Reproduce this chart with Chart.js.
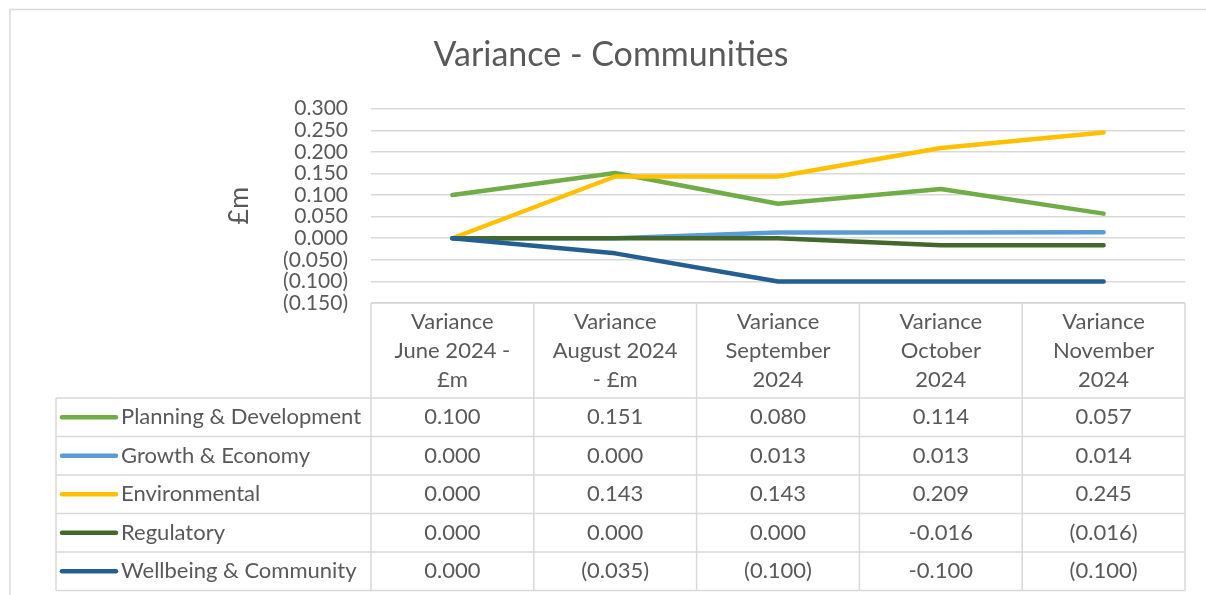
<!DOCTYPE html>
<html>
<head>
<meta charset="utf-8">
<script src="https://cdn.jsdelivr.net/npm/chart.js@4.4.0/dist/chart.umd.min.js"></script>
<style>
html,body{margin:0;padding:0;background:#fff;}
#wrap{width:1206px;height:595px;position:relative;}
</style>
</head>
<body>
<div id="wrap"><canvas id="varChart" width="1206" height="595"></canvas></div>
<script>
// DATA
const chartTitle = 'Variance - Communities';
const axisTitle = '£m';
const months = [
  ['Variance','June 2024 -','£m'],
  ['Variance','August 2024','- £m'],
  ['Variance','September','2024'],
  ['Variance','October','2024'],
  ['Variance','November','2024']
];
const seriesNames = ['Planning & Development','Growth & Economy','Environmental','Regulatory','Wellbeing & Community'];
const planning      = [0.100, 0.151, 0.080, 0.114, 0.057];
const growth        = [0.000, 0.000, 0.013, 0.013, 0.014];
const environmental = [0.000, 0.143, 0.143, 0.209, 0.245];
const regulatory    = [0.000, 0.000, 0.000, -0.016, -0.016];
const wellbeing     = [0.000, -0.035, -0.100, -0.100, -0.100];
// the sheet writes negatives differently per column (October uses a minus sign)
const negStyle = ['paren','paren','paren','minus','paren'];
const yMin = -0.15, yMax = 0.30, yStep = 0.05;

const colors = ['#70AD47','#5B9BD5','#FFC000','#43682B','#255E91'];
const txt = '#595959';
const gridCol = '#D9D9D9';
const FONT = 'Lato, Calibri, "Open Sans", sans-serif';

function fmt(v, style){
  v = Math.round(v*1000)/1000;
  if(v < 0 && style === 'paren') return '(' + Math.abs(v).toFixed(3) + ')';
  return v.toFixed(3);
}

const allSeries = [planning, growth, environmental, regulatory, wellbeing];

// draws title, outer frame and the data table under the plot
const tablePlugin = {
  id:'dataTable',
  afterDraw(chart){
    const {ctx, chartArea} = chart;
    const x = chart.scales.x;
    ctx.save();
    // frame
    ctx.strokeStyle = gridCol; ctx.lineWidth = 1.5;
    ctx.strokeRect(10, 9.5, 1220, 620);
    // title
    ctx.fillStyle = txt;
    ctx.font = '34px ' + FONT;
    ctx.textAlign = 'center'; ctx.textBaseline = 'middle';
    ctx.fillText(chartTitle, 611, 55);

    const half = (x.getPixelForValue(1) - x.getPixelForValue(0))/2;
    const colL = x.getPixelForValue(0) - half;
    const colR = x.getPixelForValue(months.length-1) + half;
    const top = chartArea.bottom, headH = 95, rowH = 38.5, legL = 56;
    const headB = top + headH;
    const bottom = headB + rowH*seriesNames.length;

    ctx.strokeStyle = gridCol; ctx.lineWidth = 1.5;
    ctx.beginPath();
    ctx.moveTo(colL, top); ctx.lineTo(colR, top);
    for(let i=0;i<=months.length;i++){
      const cx = colL + i*half*2;
      ctx.moveTo(cx, top); ctx.lineTo(cx, bottom);
    }
    ctx.moveTo(legL, headB); ctx.lineTo(legL, bottom);
    for(let r=0;r<=seriesNames.length;r++){
      const ry = headB + r*rowH;
      ctx.moveTo(legL, ry); ctx.lineTo(colR, ry);
    }
    ctx.stroke();

    ctx.fillStyle = txt;
    ctx.font = '22px ' + FONT;
    ctx.textAlign = 'center';
    months.forEach((lines,i)=>{
      const cx = x.getPixelForValue(i);
      const cy = top + headH/2;
      lines.forEach((ln,k)=>{
        ctx.fillText(ln, cx, cy + (k - (lines.length-1)/2)*29);
      });
    });

    seriesNames.forEach((name,r)=>{
      const cy = headB + r*rowH + rowH/2;
      ctx.strokeStyle = colors[r]; ctx.lineWidth = 4.5; ctx.lineCap = 'round';
      ctx.beginPath(); ctx.moveTo(62, cy); ctx.lineTo(116, cy); ctx.stroke();
      ctx.textAlign = 'left';
      ctx.fillText(name, 121, cy);
      ctx.textAlign = 'center';
      allSeries[r].forEach((v,i)=>{
        ctx.fillText(fmt(v, negStyle[i]), x.getPixelForValue(i), cy);
      });
    });
    ctx.restore();
  }
};

const ctx = document.getElementById('varChart').getContext('2d');
const chart = new Chart(ctx, {
  type:'line',
  data:{
    labels: months,
    datasets: allSeries.map((d,i)=>({
      label: seriesNames[i], data: d,
      borderColor: colors[i], backgroundColor: colors[i],
      borderWidth: 4.5, borderCapStyle:'round', borderJoinStyle:'round',
      pointRadius: 0, tension: 0, fill: false
    })).reverse()
  },
  options:{
    responsive:false,
    animation:false,
    layout:{ padding:{ top:108.7, left:223, right:21, bottom:292 } },
    plugins:{ legend:{display:false}, title:{display:false}, tooltip:{enabled:false} },
    scales:{
      x:{ display:false, offset:true },
      y:{
        min:yMin, max:yMax,
        afterFit(s){ s.width = 371 - 223; },
        border:{display:false},
        grid:{ color:gridCol, lineWidth:1.5, drawTicks:false },
        title:{ display:true, text:axisTitle, color:txt, font:{family:FONT, size:27}, padding:0 },
        ticks:{
          stepSize:yStep, color:txt, padding:23, autoSkip:false,
          font:{family:FONT, size:21},
          callback:(v)=>fmt(v,'paren')
        }
      }
    }
  },
  plugins:[tablePlugin]
});
</script>
</body>
</html>
